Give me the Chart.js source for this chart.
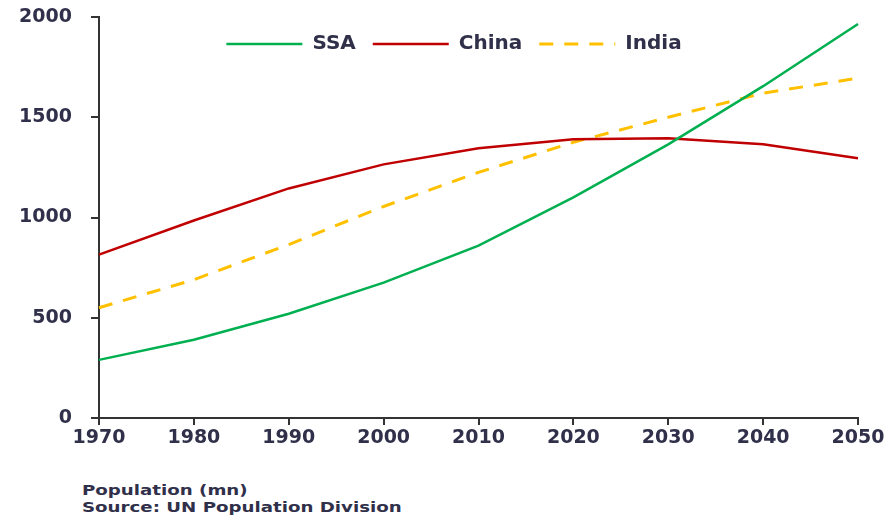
<!DOCTYPE html>
<html>
<head>
<meta charset="utf-8">
<script src="https://cdn.jsdelivr.net/npm/chart.js@4/dist/chart.umd.min.js"></script>
<style>
  html, body { margin: 0; padding: 0; background: #fff; }
  #wrap { position: relative; width: 891px; height: 515px; }
  #chart { position: absolute; left: 0; top: 0; }
  .note {
    position: absolute; left: 82px;
    font-family: "DejaVu Sans", sans-serif; font-weight: bold; font-size: 14px;
    color: #30304a; transform: scaleX(1.3); transform-origin: left top;
    white-space: nowrap;
  }
</style>
</head>
<body>
<div id="wrap">
  <canvas id="chart" width="891" height="470"></canvas>
  <div class="note" style="top:482px">Population (mn)</div>
  <div class="note" style="top:499px">Source: UN Population Division</div>
</div>
<script>
// population in millions, UN projections
const years = ['1970', '1980', '1990', '2000', '2010', '2020', '2030', '2040', '2050'];
const ssa = [290, 390, 520, 675, 860, 1100, 1365, 1655, 1965];
const china = [815, 985, 1145, 1265, 1345, 1390, 1395, 1365, 1295];
const india = [550, 690, 865, 1055, 1225, 1375, 1500, 1620, 1695];

const textColor = '#30304a';
const axisColor = '#333333';
const tickFont = { family: 'DejaVu Sans', weight: 'bold', size: 19 };

// keep the legend at the top but let it float over the plot instead of taking room
const floatingLegend = {
    id: 'floatingLegend',
    beforeInit(chart) {
        const legend = chart.legend;
        const fit = legend.fit;
        legend.fit = function () {
            fit.call(this);
            this.fullHeight = this.height;
            this.height = 0;
        };
    },
    afterLayout(chart) {
        const legend = chart.legend;
        legend.top = chart.chartArea.top;
        legend.height = legend.fullHeight;
        legend.bottom = legend.top + legend.fullHeight;
        legend.left = 50;
        legend.right = chart.chartArea.right;
    }
};

// line samples in the legend should carry the dataset's dash and width
function legendLabels(chart) {
    const items = Chart.defaults.plugins.legend.labels.generateLabels(chart);
    items.forEach(item => {
        const ds = chart.data.datasets[item.datasetIndex];
        item.lineDash = ds.borderDash || [];
        item.lineWidth = ds.borderWidth;
        item.strokeStyle = ds.borderColor;
    });
    return items;
}

new Chart(document.getElementById('chart').getContext('2d'), {
    type: 'line',
    data: {
        labels: years,
        datasets: [
            { label: 'SSA', data: ssa, borderColor: '#00b050', backgroundColor: '#00b050', borderWidth: 2.5 },
            { label: 'China', data: china, borderColor: '#c00000', backgroundColor: '#c00000', borderWidth: 2.5 },
            { label: 'India', data: india, borderColor: '#ffc000', backgroundColor: '#ffc000', borderWidth: 3, borderDash: [14, 11] }
        ]
    },
    options: {
        responsive: false,
        animation: false,
        elements: { point: { radius: 0 }, line: { tension: 0 } },
        layout: { padding: { left: 0, right: 33, top: 17, bottom: 0 } },
        plugins: {
            tooltip: { enabled: false },
            legend: {
                position: 'top',
                align: 'center',
                labels: {
                    usePointStyle: true,
                    pointStyle: 'line',
                    pointStyleWidth: 76,
                    padding: 17,
                    color: textColor,
                    font: { family: 'DejaVu Sans', weight: 'bold', size: 20 },
                    generateLabels: legendLabels
                }
            }
        },
        scales: {
            x: {
                offset: false,
                grid: { drawOnChartArea: false, drawTicks: true, tickLength: 7, color: axisColor, lineWidth: 2 },
                border: { display: true, color: axisColor, width: 2 },
                ticks: { color: textColor, font: tickFont, padding: 2, maxRotation: 0 },
                afterFit: s => { s.height = 52 }
            },
            y: {
                min: 0,
                max: 2000,
                grid: { drawOnChartArea: false, drawTicks: true, tickLength: 8, color: axisColor, lineWidth: 2 },
                border: { display: true, color: axisColor, width: 2 },
                ticks: { stepSize: 500, color: textColor, font: tickFont, padding: 19, callback: v => String(v) },
                afterFit: s => {
                    s.width = 99;
                    s.paddingTop = 0;
                    s.paddingBottom = 0;
                }
            }
        }
    },
    plugins: [floatingLegend]
});
</script>
</body>
</html>
